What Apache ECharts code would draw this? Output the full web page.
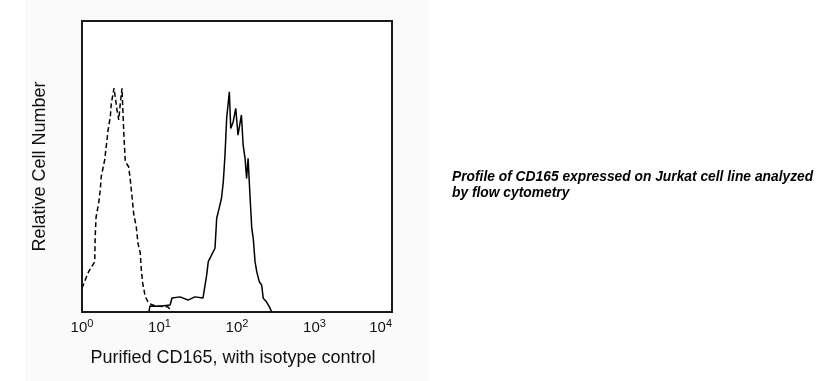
<!DOCTYPE html>
<html>
<head>
<meta charset="utf-8">
<script src="https://cdn.jsdelivr.net/npm/echarts@6/dist/echarts.min.js"></script>
<style>
html,body{margin:0;padding:0;background:#fff;}
#c{width:819px;height:381px;}
</style>
</head>
<body>
<div id="c"></div>
<script>
// Fluorescence intensity (log scale) and relative cell counts
const isotypeX = [1.0, 1.05, 1.10, 1.22, 1.46, 1.48, 1.52, 1.64, 1.72, 1.77, 1.96, 2.10, 2.17, 2.32, 2.39, 2.59, 2.83, 2.98, 3.12, 3.28, 3.38, 3.48, 3.62, 4.00, 4.20, 4.42, 4.64, 5.01, 5.28, 5.65, 5.83, 6.07, 6.55, 7.25, 8.75, 10.15, 12.9, 14.5];
const isotypeY = [8.2, 8.2, 11.0, 13.9, 17.3, 25.9, 32.7, 37.4, 41.9, 46.5, 52.2, 59.1, 62.5, 67.1, 71.7, 76.9, 69.4, 66.0, 71.7, 76.9, 68.3, 60.2, 51.6, 49.9, 45.4, 39.6, 33.9, 29.3, 23.6, 20.2, 14.4, 9.9, 5.3, 3.0, 2.1, 2.0, 1.7, 0];

const cd165X = [7.3, 7.54, 10.15, 13.7, 14.5, 18.4, 23.3, 28.6, 36.4, 40.6, 42.6, 47.0, 52.0, 54.7, 58.8, 63.1, 66.6, 70.0, 73.6, 79.6, 83.0, 89.4, 96.3, 103, 114, 120, 127, 133, 139, 147, 155, 162, 171, 180, 194, 208, 218, 240, 265, 280];
const cd165Y = [0, 2.1, 2.0, 2.4, 4.8, 5.2, 4.1, 5.2, 4.8, 12.7, 17.3, 19.6, 21.9, 32.2, 35.6, 39.1, 44.8, 54.0, 66.6, 75.7, 63.1, 65.4, 70.0, 60.8, 67.7, 57.4, 52.8, 45.9, 52.8, 40.2, 28.8, 25.3, 17.3, 13.8, 10.4, 9.3, 4.7, 3.5, 1.5, 0];

const xTicks = [1, 10, 100, 1000, 10000];
const xTitle = 'Purified CD165, with isotype control';
const yTitle = 'Relative Cell Number';
const caption = 'Profile of CD165 expressed on Jurkat cell line analyzed\nby flow cytometry';

const zip = (xs, ys) => xs.map((x, i) => [x, ys[i]]);
const FONT = '"Liberation Sans", Arial, sans-serif';

const chart = echarts.init(document.getElementById('c'), null, {renderer: 'canvas'});
chart.setOption({
  backgroundColor: '#ffffff',
  animation: false,
  graphic: [{
    type: 'rect', z: -10, silent: true,
    shape: {x: 25, y: 0, width: 404, height: 381},
    style: {fill: '#fafafa'}
  }],
  title: {
    text: caption,
    left: 452, top: 169, padding: 0,
    textStyle: {fontFamily: FONT, fontSize: 13.8, fontWeight: 'bold', fontStyle: 'italic', color: '#000', lineHeight: 16}
  },
  grid: {
    left: 82, top: 21, right: 427, bottom: 69,
    show: true, backgroundColor: '#ffffff', borderColor: '#1a1a1a', borderWidth: 2
  },
  xAxis: {
    type: 'log', logBase: 10, min: 1, max: 10000,
    name: xTitle, nameLocation: 'middle', nameGap: 37,
    nameTextStyle: {fontFamily: FONT, fontSize: 18, color: '#111', padding: [0, 8, 0, 0]},
    axisLine: {show: false}, axisTick: {show: false}, splitLine: {show: false},
    axisLabel: {
      margin: 6,
      alignMaxLabel: 'right',
      formatter: v => '{b|10}{s|' + Math.round(Math.log10(v)) + '}',
      rich: {
        b: {fontFamily: FONT, fontSize: 15, color: '#111'},
        s: {fontFamily: FONT, fontSize: 11, color: '#111', padding: [0, 0, 9, 0]}
      }
    }
  },
  yAxis: {
    type: 'value', min: 0, max: 100,
    name: yTitle, nameLocation: 'middle', nameGap: 33, nameRotate: 90,
    nameTextStyle: {fontFamily: FONT, fontSize: 18, color: '#111'},
    axisLine: {show: false}, axisTick: {show: false}, splitLine: {show: false},
    axisLabel: {show: false}
  },
  series: [
    {
      type: 'line', name: 'isotype', data: zip(isotypeX, isotypeY),
      showSymbol: false, symbol: 'none',
      lineStyle: {color: '#000', width: 1.5, type: [5, 3]}
    },
    {
      type: 'line', name: 'CD165', data: zip(cd165X, cd165Y),
      showSymbol: false, symbol: 'none',
      lineStyle: {color: '#000', width: 1.5}
    }
  ]
});
</script>
</body>
</html>
